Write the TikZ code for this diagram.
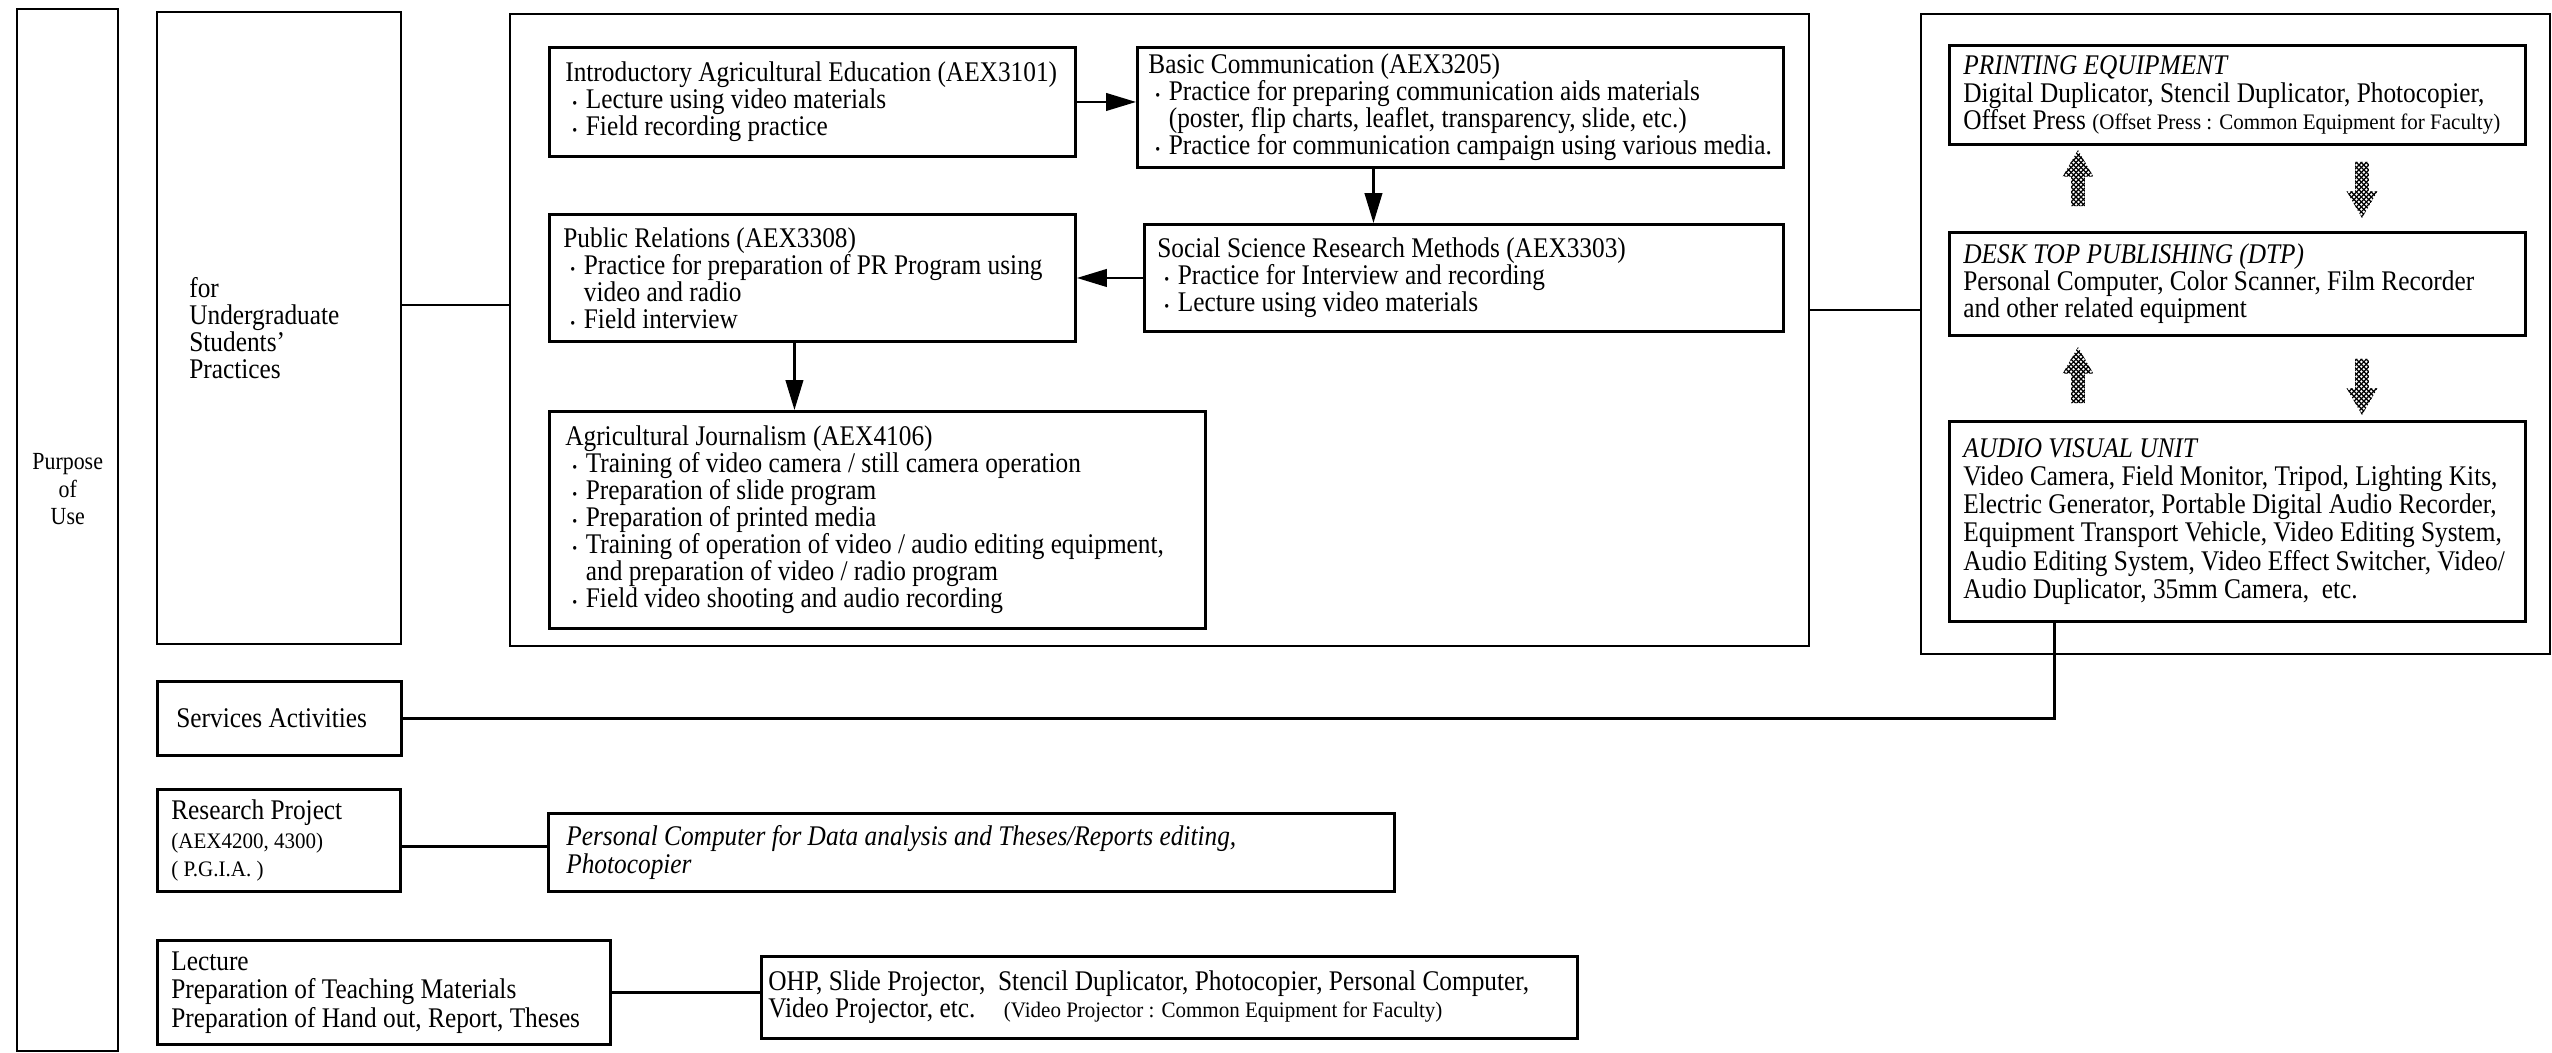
\documentclass[tikz,border=0pt]{standalone}
\usepackage{fontspec}
\setmainfont{Liberation Serif}[FakeStretch=0.89]
\newfontfamily\notefont{Liberation Serif}[FakeStretch=0.95]
\usetikzlibrary{arrows.meta,shapes.arrows,patterns}

\newcommand{\bul}{\hspace{0.25em}\scalebox{0.55}{\textbullet}\hspace{0.3em}}
\newcommand{\ind}{\hphantom{\bul}}
\newcommand{\note}[1]{{\notefont\fontsize{12.6}{14}\selectfont #1}}

\pgfdeclarepatternformonly{checks}{\pgfqpoint{-0.5pt}{-0.5pt}}{\pgfqpoint{3.3pt}{3.3pt}}{\pgfqpoint{2.8pt}{2.8pt}}{%
    \pgfsetlinewidth{0.7pt}%
    \pgfpathmoveto{\pgfqpoint{0pt}{0pt}}\pgfpathlineto{\pgfqpoint{2.8pt}{2.8pt}}%
    \pgfpathmoveto{\pgfqpoint{0pt}{2.8pt}}\pgfpathlineto{\pgfqpoint{2.8pt}{0pt}}%
    \pgfusepath{stroke}}

\tikzset{
    frame/.style={draw, line width=1.4pt, anchor=north west, inner sep=0pt},
    course/.style={draw, line width=1.7pt, anchor=north west, inner sep=0pt},
    txt/.style={anchor=west, align=left, inner sep=0pt, font=\fontsize{16.2}{15.4}\selectfont},
    arr/.style={-{Triangle[length=17pt,width=10pt]}},
    hatch/.style={single arrow, draw=none, pattern=checks, inner sep=0.13cm,
        minimum height=1.12cm, single arrow tip angle=60, single arrow head extend=0.17cm}
}

\begin{document}
\begin{tikzpicture}[x=0.02cm, y=-0.02cm]
            \useasboundingbox (0,0) rectangle (2552,1053);
            \node[frame, minimum width=2.02cm, minimum height=20.84cm,
                label={[txt, anchor=center, align=center, yshift=0.82cm, font=\fontsize{14}{15.7}\selectfont]center:Purpose\\of\\Use}]
                (Purpose) at (16,8) {};
            \node[frame, minimum width=4.88cm, minimum height=12.64cm,
                label={[txt, xshift=0.66cm]west:for\\Undergraduate\\Students'\\Practices}]
                (Under) at (156,11) {};
            \node[frame, minimum width=25.98cm, minimum height=12.64cm] (Mid)   at (509,13)  {};
            \node[frame, minimum width=12.58cm, minimum height=12.8cm]  (Equip) at (1920,13) {};

            \node[course, minimum width=10.52cm, minimum height=2.18cm,
                label={[txt, xshift=0.34cm]west:Introductory Agricultural Education (AEX3101)\\
                 \bul Lecture using video materials\\
                 \bul Field recording practice}] (Intro) at (548,46) {};
            \node[course, minimum width=12.92cm, minimum height=2.40cm,
                label={[txt, xshift=0.24cm]west:Basic Communication (AEX3205)\\
                 \bul Practice for preparing communication aids materials\\
                 \ind (poster, flip charts, leaflet, transparency, slide, etc.)\\
                 \bul Practice for communication campaign using various media.}] (Basic) at (1136,46) {};
            \node[course, minimum width=12.78cm, minimum height=2.14cm,
                label={[txt, xshift=0.28cm]west:Social Science Research Methods (AEX3303)\\
                 \bul Practice for Interview and recording\\
                 \bul Lecture using video materials}] (Social) at (1143,223) {};
            \node[course, minimum width=10.52cm, minimum height=2.54cm,
                label={[txt, xshift=0.30cm]west:Public Relations (AEX3308)\\
                 \bul Practice for preparation of PR Program using\\
                 \ind video and radio\\
                 \bul Field interview}] (PR) at (548,213) {};
            \node[course, minimum width=13.12cm, minimum height=4.34cm,
                label={[txt, xshift=0.34cm]west:Agricultural Journalism (AEX4106)\\
                 \bul Training of video camera / still camera operation\\
                 \bul Preparation of slide program\\
                 \bul Preparation of printed media\\
                 \bul Training of operation of video / audio editing equipment,\\
                 \ind and preparation of video / radio program\\
                 \bul Field video shooting and audio recording}] (AJ) at (548,410) {};

            \node[course, minimum width=11.52cm, minimum height=1.98cm,
                label={[txt, xshift=0.30cm]west:\textit{PRINTING EQUIPMENT}\\
                 Digital Duplicator, Stencil Duplicator, Photocopier,\\
                 Offset Press \note{(Offset Press : Common Equipment for Faculty)}}] (Print) at (1948,44) {};
            \node[course, minimum width=11.52cm, minimum height=2.06cm,
                label={[txt, xshift=0.30cm]west:\textit{DESK TOP PUBLISHING (DTP)}\\
                 Personal Computer, Color Scanner, Film Recorder\\
                 and other related equipment}] (DTP) at (1948,231) {};
            \node[course, minimum width=11.52cm, minimum height=4.0cm,
                label={[txt, xshift=0.30cm, font=\fontsize{16.2}{16}\selectfont]west:\textit{AUDIO VISUAL UNIT}\\
                 Video Camera, Field Monitor, Tripod, Lighting Kits,\\
                 Electric Generator, Portable Digital Audio Recorder,\\
                 Equipment Transport Vehicle, Video Editing System,\\
                 Audio Editing System, Video Effect Switcher, Video/\\
                 Audio Duplicator, 35mm Camera,\ \ etc.}] (AV) at (1948,420) {};
            \node[hatch, shape border rotate=90]  (U1) at (2078,184) {};
            \node[hatch, shape border rotate=270] (D1) at (2362,184) {};
            \node[hatch, shape border rotate=90]  (U2) at (2078,381) {};
            \node[hatch, shape border rotate=270] (D2) at (2362,381) {};

            \node[course, minimum width=4.88cm, minimum height=1.48cm,
                label={[txt, xshift=0.40cm]west:Services Activities}] (Serv) at (156,680) {};
            \node[course, minimum width=4.86cm, minimum height=2.04cm,
                label={[txt, xshift=0.30cm, font=\fontsize{16.2}{16.2}\selectfont]west:Research Project\\
                 \note{(AEX4200, 4300)}\\ \note{( P.G.I.A. )}}] (Res) at (156,788) {};
            \node[course, minimum width=16.92cm, minimum height=1.56cm,
                label={[txt, xshift=0.38cm, font=\fontsize{16.2}{15.4}\selectfont\itshape]west:Personal Computer for Data analysis and Theses/Reports editing,\\
                 Photocopier}] (PC) at (547,812) {};
            \node[course, minimum width=9.06cm, minimum height=2.08cm,
                label={[txt, xshift=0.30cm, font=\fontsize{16.2}{16.2}\selectfont]west:Lecture\\
                 Preparation of Teaching Materials\\
                 Preparation of Hand out, Report, Theses}] (Lect) at (156,939) {};
            \node[course, minimum width=16.32cm, minimum height=1.64cm,
                label={[txt, xshift=0.16cm]west:OHP, Slide Projector,\ \ Stencil Duplicator, Photocopier, Personal Computer,\\
                 Video Projector, etc.\quad \note{(Video Projector : Common Equipment for Faculty)}}] (OHP) at (760,955) {};

            \path[line width=1.2pt]
                ([yshift=0.46cm]Under.east) edge ([yshift=0.46cm]Under.east -| Mid.west)
                ([yshift=0.40cm]Mid.east)   edge ([yshift=0.40cm]Mid.east -| Equip.west)
                ([yshift=-0.12cm]Res.east)  edge ([yshift=-0.12cm]Res.east -| PC.west)
                (Lect.east) edge (Lect.east -| OHP.west)
                (Intro.east) edge [arr] (Intro.east -| Basic.west)
                ([xshift=-1.74cm]Basic.south) edge [arr] ([xshift=-1.74cm]Basic.south |- Social.north)
                (Social.west) edge [arr] (Social.west -| PR.east)
                ([xshift=-0.36cm]PR.south) edge [arr] ([xshift=-0.36cm]PR.south |- AJ.north)
                ;
            \draw[line width=1.6pt] ([xshift=-3.66cm]AV.south) |- (Serv.east);
        \end{tikzpicture}
\end{document}
